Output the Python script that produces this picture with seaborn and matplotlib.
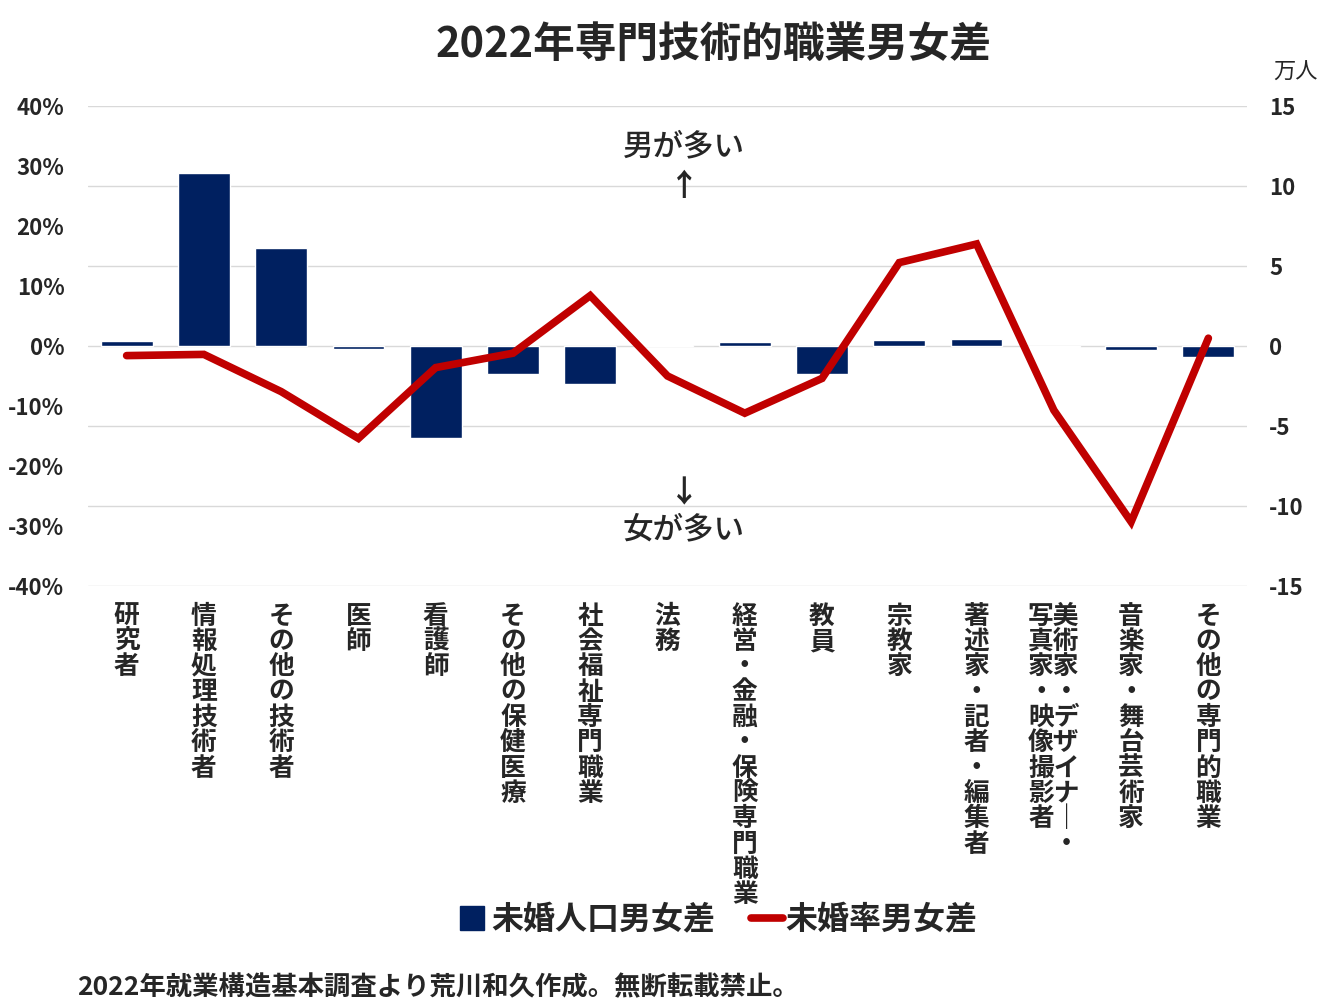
import numpy as np
import pandas as pd
import matplotlib
matplotlib.use("Agg")
import matplotlib.pyplot as plt
from matplotlib.lines import Line2D
import seaborn as sns

# categories (vertical labels, one char per line)
categories = [
    "研究者", "情報処理技術者", "その他の技術者", "医師", "看護師",
    "その他の保健医療", "社会福祉専門職業", "法務", "経営・金融・保険専門職業",
    "教員", "宗教家", "著述家・記者・編集者", "美術家・デザイナー・写真家・映像撮影者",
    "音楽家・舞台芸術家", "その他の専門的職業",
]
# unmarried population difference (men - women), 万人
pop_diff = [0.33, 10.83, 6.15, -0.17, -5.73, -1.75, -2.38, 0.05, 0.25,
            -1.75, 0.4, 0.46, -0.06, -0.23, -0.67]
# unmarried rate difference (men - women), %
rate_diff = [-1.6, -1.4, -7.6, -15.4, -3.6, -1.2, 8.4, -5.0, -11.2,
             -5.4, 13.9, 17.0, -10.7, -29.3, 1.3]

pct_ticks = [-40, -30, -20, -10, 0, 10, 20, 30, 40]
man_ticks = [-15, -10, -5, 0, 5, 10, 15]

navy = "#002060"
red = "#c00000"

sns.set_theme(style="white")
plt.rcParams["font.family"] = ["Noto Sans CJK JP", "DejaVu Sans"]


def vertical(label):
    # stack characters top to bottom; long vowel mark turns vertical
    if label.startswith("美術家"):
        right = "美術家・デザイナ｜・"
        left = "写真家・映像撮影者"
        left = left + "\u3000" * (len(right) - len(left))
        return "\n".join(l + r for l, r in zip(left, right))
    return "\n".join(label.replace("ー", "｜"))


df = pd.DataFrame({"cat": categories, "pop": pop_diff, "rate": rate_diff})
df["pos"] = np.arange(len(df))

fig = plt.figure(figsize=(13.44, 10.08), dpi=100)
ax2 = fig.add_axes([88 / 1344, 1 - 586 / 1008, 1159 / 1344, 480 / 1008])
ax = ax2.twinx()

# bars on the 万人 axis (right)
sns.barplot(data=df, x="pos", y="pop", color=navy, saturation=1,
            width=0.67, ax=ax2, order=list(range(len(df))))
ax2.set_ylim(-15, 15)
ax2.set_yticks(man_ticks)
ax2.set_yticklabels([str(t) for t in man_ticks], fontsize=16, fontweight="bold")
ax2.yaxis.tick_right()
ax2.tick_params(axis="y", length=0, pad=16)
ax2.grid(axis="y", color="#d9d9d9", linewidth=1)
ax2.set_axisbelow(True)
ax2.set_xlim(-0.5, len(df) - 0.5)
ax2.set_xticks(df["pos"])
ax2.set_xticklabels([vertical(c) for c in categories], fontsize=18.5,
                    fontweight="bold", linespacing=0.92, va="top")
ax2.tick_params(axis="x", length=0, pad=12)
ax2.set_xlabel("")
ax2.set_ylabel("")
for s in ax2.spines.values():
    s.set_visible(False)

# line on the % axis (left), drawn above bars
sns.lineplot(data=df, x="pos", y="rate", color=red, linewidth=5.5, ax=ax,
             solid_capstyle="round", solid_joinstyle="miter", sort=False)
ax.set_ylim(-40, 40)
ax.set_yticks(pct_ticks)
ax.set_yticklabels([f"{t}%" for t in pct_ticks], fontsize=16, fontweight="bold")
ax.yaxis.tick_left()
ax.tick_params(axis="y", length=0, pad=17)
ax.set_xlim(-0.5, len(df) - 0.5)
ax.set_xlabel("")
ax.set_ylabel("")
for s in ax.spines.values():
    s.set_visible(False)
ax.set_zorder(ax2.get_zorder() + 1)
ax.patch.set_visible(False)

# annotations
fig.text(684 / 1344, 1 - 147 / 1008, "男が多い", fontsize=22, ha="center", va="center",
         fontweight="medium")
fig.text(684 / 1344, 1 - 186 / 1008, "↑", fontsize=22, ha="center", va="center",
         fontweight="bold")
fig.text(684 / 1344, 1 - 493 / 1008, "↓", fontsize=22, ha="center", va="center",
         fontweight="bold")
fig.text(684 / 1344, 1 - 530 / 1008, "女が多い", fontsize=22, ha="center", va="center",
         fontweight="medium")

fig.text(1295 / 1344, 1 - 72 / 1008, "万人", fontsize=16, ha="center", va="center")

fig.text(714 / 1344, 1 - 45 / 1008, "2022年専門技術的職業男女差", fontsize=30,
         fontweight="bold", ha="center", va="center")

handles = [
    Line2D([], [], marker="s", linestyle="none", markersize=17, color=navy),
    Line2D([], [], color=red, linewidth=5.5, solid_capstyle="round"),
]
fig.legend(handles, ["未婚人口男女差", "未婚率男女差"], loc="center",
           bbox_to_anchor=(717 / 1344, 1 - 920 / 1008), ncol=2, frameon=False,
           handlelength=1.0, handletextpad=0.1, columnspacing=1.1,
           prop={"weight": "bold", "size": 23})

fig.text(77 / 1344, 1 - 988 / 1008, "2022年就業構造基本調査より荒川和久作成。無断転載禁止。",
         fontsize=19, fontweight="bold", ha="left", va="center")

fig.savefig("out.png", dpi=100)
